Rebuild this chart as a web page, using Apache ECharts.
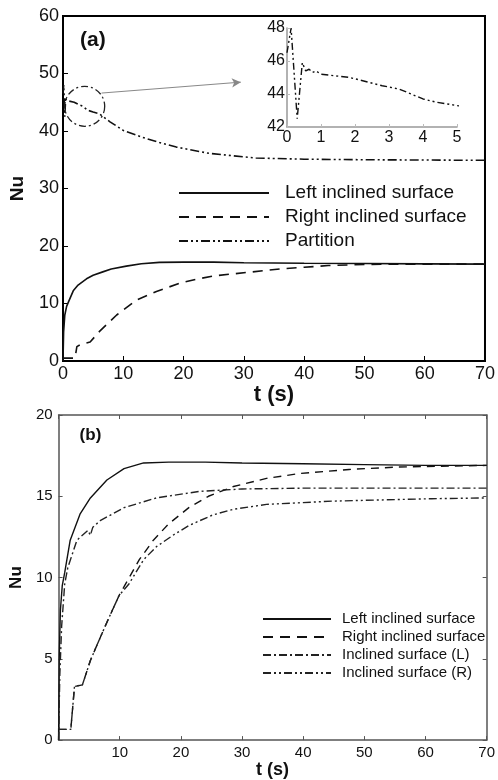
<!DOCTYPE html>
<html>
<head>
<meta charset="utf-8">
<script src="https://cdn.jsdelivr.net/npm/echarts@6/dist/echarts.min.js"></script>
<style>html,body{margin:0;padding:0;background:#fff}#c{width:498px;height:780px}</style>
</head>
<body>
<div id="c"></div>
<script>
// ---- Panel (a) data: [t (s), Nu] ----
var aLeft = [[0,0],[0.1,5],[0.3,8],[0.6,9.5],[1,10.5],[1.7,12.2],[2.5,13.2],[3.9,14.3],[5,14.9],[6.6,15.5],[8,16],[10.5,16.5],[13,16.9],[16,17.15],[20,17.2],[25,17.2],[30,17.1],[40,17.0],[50,16.95],[60,16.9],[70,16.85]];
var aRight = [[0,0.5],[2,0.5],[2.3,2.5],[2.8,2.8],[4.5,3.3],[6.1,5.2],[8.9,8],[12.2,10.6],[15.5,12.1],[19.3,13.5],[22,14.2],[25,14.8],[30.5,15.4],[36,16],[40,16.3],[44,16.6],[50,16.8],[60,16.85],[70,16.85]];
var aPartition = [[0,46.5],[0.12,48],[0.3,42.5],[0.45,45.9],[0.55,45.4],[0.65,45.5],[0.75,45.3],[0.85,45.4],[1,45.2],[1.85,45],[2.8,44.5],[3.3,44.3],[4,43.7],[4.4,43.5],[5,43.3],[6,43],[7.8,41.6],[10,40.1],[13.2,38.9],[16,38],[18.8,37.2],[24.3,36.1],[32,35.3],[40,35.1],[50,35],[60,34.95],[70,34.9]];
// ---- Panel (b) data ----
var bLeft = [[0,0],[0.1,5],[0.3,8],[0.6,9.5],[1,10.3],[1.9,12.3],[3.5,13.9],[5.2,14.9],[7.9,16],[10.7,16.7],[13.9,17.05],[18,17.1],[24,17.1],[30,17.05],[40,17],[50,16.95],[60,16.9],[70,16.9]];
var bRight = [[0,0.66],[2,0.66],[2.6,3.3],[3.9,3.4],[5.2,4.9],[6.8,6.3],[8.2,7.5],[9.9,8.9],[10.8,9.5],[13.2,11.1],[15.5,12.3],[18,13.3],[21.3,14.3],[24.5,15.0],[28.6,15.6],[34,16.1],[39.4,16.4],[47.5,16.65],[55.6,16.8],[70,16.9]];
var bIncL = [[0,0],[0.2,4],[0.5,7],[1,9.6],[1.5,10.6],[3,12.3],[4.8,12.9],[5.2,12.6],[5.6,13.1],[6.8,13.5],[10.7,14.3],[16,14.9],[23,15.3],[30,15.45],[40,15.5],[70,15.5]];
var bIncR = [[0,0.66],[2,0.66],[2.6,3.3],[3.9,3.4],[5.2,4.9],[6.8,6.3],[8.2,7.5],[9.9,8.9],[11.5,9.6],[13.9,11.1],[16,11.9],[18.7,12.6],[21.3,13.2],[25.2,13.85],[28.6,14.2],[34,14.5],[44.7,14.7],[61,14.85],[70,14.9]];
// ---- axis ticks ----
var aXTicks = [0,70,10], aYTicks = [0,60,10];
var insetXTicks = [0,5,1], insetYTicks = [42,48,2];
var bXTicks = [0,70,10], bYTicks = [0,20,5];
// ---- annotation (zoom circle & arrow) in data units of panel (a) ----
var zoomCircle = [3.6, 44.3];
var arrowLine = [[6.4,46.6],[29.5,48.5]];

var FONT = '"Liberation Sans", Arial, sans-serif';
var DASH = [10,7], DDOT = [9,3,2,3,2,3];
var bDASH = [8,6], bDDOT1 = [8,3,2,3], bDDOT2 = [8,3,2,3,2,3];

function valAxis(gi, t, o) {
  var base = {
    type:'value', gridIndex:gi, min:t[0], max:t[1], interval:t[2],
    splitLine:{show:false},
    axisLine:{show:true, onZero:false, lineStyle:{color:'#000', width:2}},
    axisTick:{show:true, inside:true, length:5, lineStyle:{color:'#000', width:1}},
    axisLabel:{color:'#111', fontFamily:FONT, fontSize:18, margin:4}
  };
  for (var k in o) base[k] = o[k];
  return base;
}

var chart = echarts.init(document.getElementById('c'), null, {renderer:'canvas'});
var option = {
  animation:false,
  backgroundColor:'#fff',
  color:['#111'],
  textStyle:{fontFamily:FONT},
  grid:[
    {left:63, top:16, width:424, height:345, show:true, borderColor:'#000', borderWidth:2},
    {left:287, top:28, width:170, height:99},
    {left:56, top:415, width:433, height:333}
  ],
  xAxis:[
    valAxis(0, aXTicks, {name:'t (s)', nameLocation:'middle', nameGap:21,
      nameTextStyle:{fontSize:22, fontWeight:'bold', color:'#111', fontFamily:FONT}}),
    valAxis(1, insetXTicks, {
      axisLine:{show:true, onZero:false, lineStyle:{color:'#999', width:1.5}},
      axisTick:{show:true, inside:true, length:3, lineStyle:{color:'#bbb'}},
      axisLabel:{color:'#111', fontFamily:FONT, fontSize:16, margin:3}}),
    valAxis(2, bXTicks, {name:'t (s)', nameLocation:'middle', nameGap:13,
      axisLine:{show:true, onZero:false, lineStyle:{color:'#555', width:1.5}},
      axisTick:{show:true, inside:true, length:4, lineStyle:{color:'#555'}},
      axisLabel:{color:'#111', fontFamily:FONT, fontSize:15, margin:5,
        formatter:function(v){return v===0?'':String(v);}},
      nameTextStyle:{fontSize:18, fontWeight:'bold', color:'#111', fontFamily:FONT}}),
    valAxis(2, bXTicks, {position:'top',
      axisLine:{show:true, onZero:false, lineStyle:{color:'#555', width:1.5}},
      axisTick:{show:true, inside:true, length:4, lineStyle:{color:'#555'}},
      axisLabel:{show:false}})
  ],
  yAxis:[
    valAxis(0, aYTicks, {name:'Nu', nameLocation:'middle', nameGap:36,
      nameTextStyle:{fontSize:19, fontWeight:'bold', color:'#111', fontFamily:FONT}}),
    valAxis(1, insetYTicks, {
      axisLine:{show:true, onZero:false, lineStyle:{color:'#999', width:1.5}},
      axisTick:{show:true, inside:true, length:3, lineStyle:{color:'#bbb'}},
      axisLabel:{color:'#111', fontFamily:FONT, fontSize:16, margin:2}}),
    valAxis(2, bYTicks, {name:'Nu', nameLocation:'middle', nameGap:31,
      axisLine:{show:true, onZero:false, lineStyle:{color:'#555', width:1.5}},
      axisTick:{show:true, inside:true, length:4, lineStyle:{color:'#555'}},
      axisLabel:{color:'#111', fontFamily:FONT, fontSize:15, margin:6},
      nameTextStyle:{fontSize:17, fontWeight:'bold', color:'#111', fontFamily:FONT}}),
    valAxis(2, bYTicks, {position:'right',
      axisLine:{show:true, onZero:false, lineStyle:{color:'#555', width:1.5}},
      axisTick:{show:true, inside:true, length:4, lineStyle:{color:'#555'}},
      axisLabel:{show:false}})
  ],
  legend:[
    {data:['Left inclined surface','Right inclined surface','Partition'],
     orient:'vertical', left:173, top:178, itemWidth:90, itemHeight:14, itemGap:4,
     selectedMode:false, itemStyle:{opacity:0},
     textStyle:{fontSize:19, color:'#111', fontFamily:FONT, lineHeight:20, padding:[0,0,0,11]}},
    {data:['Left inclined surface','Right inclined surface','Inclined surface (L)','Inclined surface (R)'],
     orient:'vertical', left:257, top:606, itemWidth:68, itemHeight:12, itemGap:2,
     selectedMode:false, itemStyle:{opacity:0},
     textStyle:{fontSize:15, color:'#111', fontFamily:FONT, lineHeight:16, padding:[0,0,0,6]}}
  ],
  series:[
    {name:'Left inclined surface', type:'line', xAxisIndex:0, yAxisIndex:0, data:aLeft, symbol:'none',
      lineStyle:{color:'#111', width:1.6, type:'solid'}},
    {name:'Right inclined surface', type:'line', xAxisIndex:0, yAxisIndex:0, data:aRight, symbol:'none',
      lineStyle:{color:'#111', width:1.6, type:DASH}},
    {name:'Partition', type:'line', xAxisIndex:0, yAxisIndex:0, data:aPartition, symbol:'none',
      lineStyle:{color:'#111', width:1.6, type:DDOT},
      markLine:{silent:true, symbol:['none','arrow'], symbolSize:[7,9], label:{show:false},
        lineStyle:{color:'#888', width:1, type:'solid'},
        data:[[{coord:arrowLine[0]},{coord:arrowLine[1]}]]}},
    {name:'inset', type:'line', xAxisIndex:1, yAxisIndex:1, data:aPartition, symbol:'none', clip:true,
      lineStyle:{color:'#111', width:1.4, type:[7,3,2,3,2,3]}},
    {name:'Left inclined surface', type:'line', xAxisIndex:2, yAxisIndex:2, data:bLeft, symbol:'none',
      lineStyle:{color:'#111', width:1.4, type:'solid'}},
    {name:'Right inclined surface', type:'line', xAxisIndex:2, yAxisIndex:2, data:bRight, symbol:'none',
      lineStyle:{color:'#111', width:1.4, type:bDASH}},
    {name:'Inclined surface (L)', type:'line', xAxisIndex:2, yAxisIndex:2, data:bIncL, symbol:'none',
      lineStyle:{color:'#222', width:1.4, type:bDDOT1}},
    {name:'Inclined surface (R)', type:'line', xAxisIndex:2, yAxisIndex:2, data:bIncR, symbol:'none',
      lineStyle:{color:'#222', width:1.4, type:bDDOT2}}
  ]
};
chart.setOption(option);

var c = chart.convertToPixel({gridIndex:0}, zoomCircle);
var aTL = chart.convertToPixel({gridIndex:0}, [aXTicks[0], aYTicks[1]]);
var bTL = chart.convertToPixel({gridIndex:2}, [bXTicks[0], bYTicks[1]]);
chart.setOption({
  graphic:[
    {type:'circle', shape:{cx:c[0], cy:c[1], r:20}, z:10,
     style:{fill:'none', stroke:'#222', lineWidth:1.3, lineDash:[7,3,2,3]}},
    {type:'text', left:aTL[0]+17, top:aTL[1]+14, z:10,
     style:{text:'(a)', font:'bold 21px ' + FONT, fill:'#111'}},
    {type:'text', left:bTL[0]+21, top:bTL[1]+12, z:10,
     style:{text:'(b)', font:'bold 17px ' + FONT, fill:'#111'}}
  ]
});
</script>
</body>
</html>
